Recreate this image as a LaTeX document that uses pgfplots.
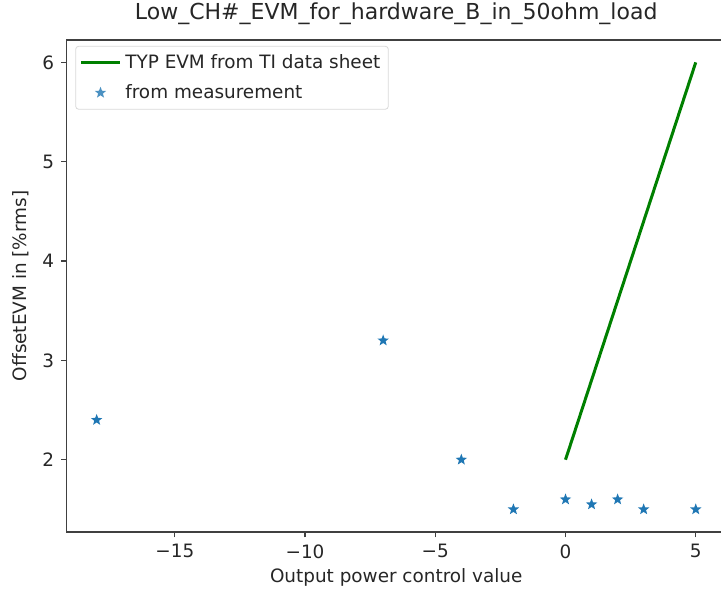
\documentclass[border=0pt]{standalone}
\usepackage{pgfplots}
\pgfplotsset{compat=1.18}
\usepackage{fontspec}
\setmainfont{DejaVu Sans}

\definecolor{mplblue}{HTML}{1F77B4}
\definecolor{mplgreen}{HTML}{008000}

% filled five-pointed star, like matplotlib's '*'
\pgfdeclareplotmark{fstar}{%
  \pgfpathmoveto{\pgfpointpolar{90}{\pgfplotmarksize}}%
  \pgfpathlineto{\pgfpointpolar{126}{0.42\pgfplotmarksize}}%
  \pgfpathlineto{\pgfpointpolar{162}{\pgfplotmarksize}}%
  \pgfpathlineto{\pgfpointpolar{198}{0.42\pgfplotmarksize}}%
  \pgfpathlineto{\pgfpointpolar{234}{\pgfplotmarksize}}%
  \pgfpathlineto{\pgfpointpolar{270}{0.42\pgfplotmarksize}}%
  \pgfpathlineto{\pgfpointpolar{306}{\pgfplotmarksize}}%
  \pgfpathlineto{\pgfpointpolar{342}{0.42\pgfplotmarksize}}%
  \pgfpathlineto{\pgfpointpolar{18}{\pgfplotmarksize}}%
  \pgfpathlineto{\pgfpointpolar{54}{0.42\pgfplotmarksize}}%
  \pgfpathclose
  \pgfusepathqfill}

\begin{document}
\begin{tikzpicture}
\begin{axis}[
    name=ax,
    scale only axis,
    width=329.5pt, height=245.85pt,
    xmin=-19.15, xmax=6.15, ymin=1.275, ymax=6.225,
    xtick={-15,-10,-5,0,5}, xticklabels={−15,−10,−5,0,5},
    ytick={2,3,4,5,6},
    tick align=outside, major tick length=2.8pt,
    xtick pos=bottom, ytick pos=left,
    axis line style={line width=0.8pt, black!75},
    tick style={line width=0.6pt, black!75},
    ticklabel style={font=\fontsize{9.2}{10}\selectfont, text=black!85},
    /pgf/number format/assume math mode=true,
    xlabel={Output power control value},
    ylabel={OffsetEVM in [\%rms]},
    xlabel style={yshift=2pt},
    label style={font=\fontsize{9.2}{10}\selectfont, text=black!85},
    title={Low\_CH\#\_EVM\_for\_hardware\_B\_in\_50ohm\_load},
    title style={font=\fontsize{11}{12}\selectfont, text=black!85, yshift=-2pt},
    legend cell align=left,
    legend style={font=\fontsize{9.2}{10}\selectfont, text=black!85, draw=black!15,
        rounded corners=1.5pt, fill=white, fill opacity=0.8, text opacity=1,
        at={(0.013,0.988)}, anchor=north west, inner xsep=2pt, inner ysep=2pt,
        row sep=2.5pt},
    legend image code/.code={\draw[#1] (0cm,0cm) -- (0.68cm,0cm);},
]
\addplot[mplgreen, line width=1.5pt] coordinates {(0,2) (5,6)};
\addlegendentry{TYP EVM from TI data sheet}
\addplot[only marks, mark=fstar, mark size=3pt, mplblue,
    legend image code/.code={\draw[mplblue] plot[mark=fstar, mark size=3pt] coordinates {(0.34cm,0cm)};}]
    coordinates {(-18,2.4) (-7,3.2) (-4,2.0) (-2,1.5) (0,1.6) (1,1.55) (2,1.6) (3,1.5) (5,1.5)};
\addlegendentry{from measurement}
\end{axis}
\pgfresetboundingbox
\path ([xshift=-33.35pt, yshift=-29.15pt]ax.south west) rectangle ([xshift=327.15pt, yshift=20pt]ax.north west);
\end{tikzpicture}
\end{document}
